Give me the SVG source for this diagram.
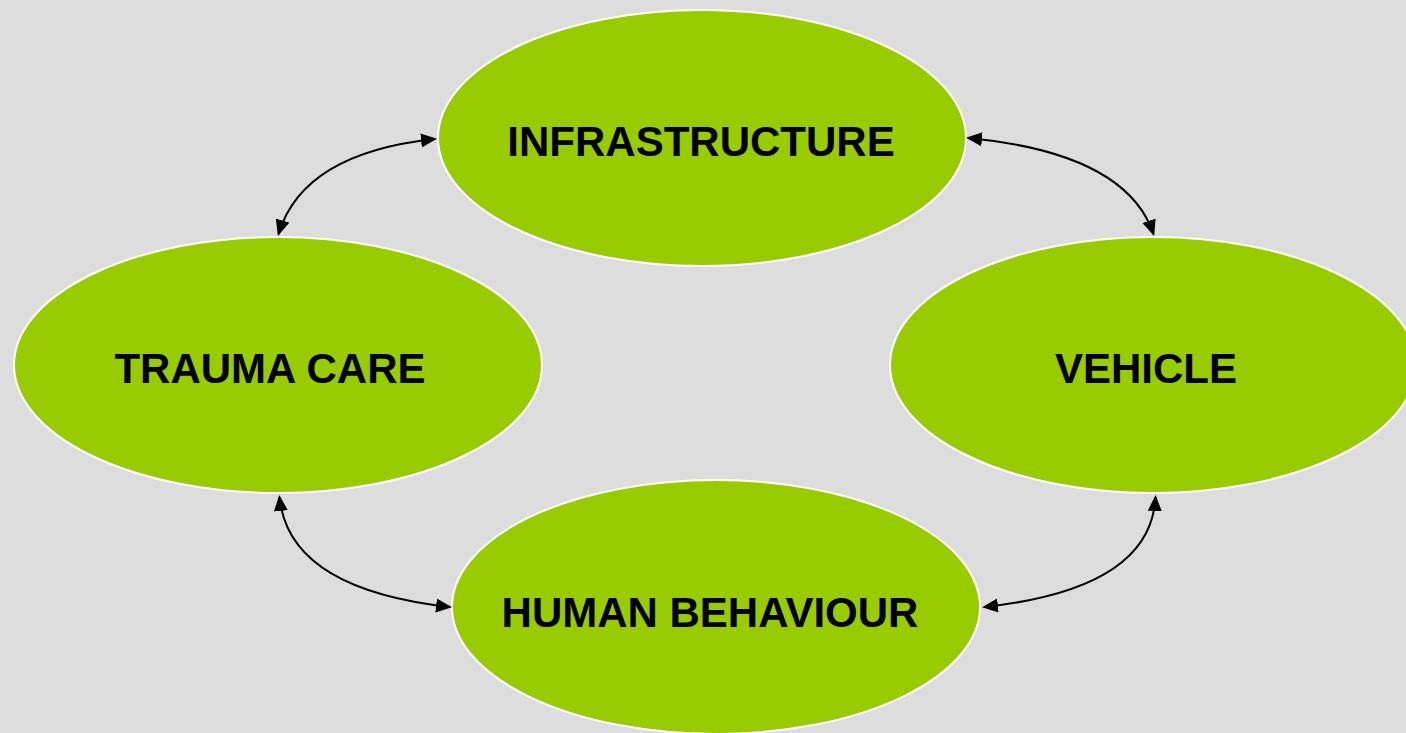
<svg xmlns="http://www.w3.org/2000/svg" width="1406" height="733" viewBox="0 0 1406 733">
  <defs>
    <style>
      .node ellipse { fill: #99CC00; stroke: #FFFFFF; stroke-width: 2; }
      .node text { font-family: "Liberation Sans", Arial, sans-serif; font-weight: bold; font-size: 42px; fill: #000000; text-anchor: middle; }
      .conn path { fill: none; stroke: #000000; stroke-width: 2; marker-start: url(#arr); marker-end: url(#arr); }
    </style>
    <marker id="arr" markerUnits="userSpaceOnUse" markerWidth="18" markerHeight="16" refX="14" refY="7" orient="auto-start-reverse">
      <path d="M0,0 L16,7 L0,14 z" fill="#000000"/>
    </marker>
  </defs>
  <rect x="0" y="0" width="1406" height="733" fill="#DDDDDD"/>
  <g id="node-infrastructure" class="node">
    <ellipse cx="702" cy="138" rx="264" ry="128"/>
    <text x="701" y="156">INFRASTRUCTURE</text>
  </g>
  <g id="node-trauma-care" class="node">
    <ellipse cx="278" cy="365" rx="264" ry="128"/>
    <text x="270" y="383">TRAUMA CARE</text>
  </g>
  <g id="node-vehicle" class="node">
    <ellipse cx="1153" cy="365" rx="263" ry="128"/>
    <text x="1146" y="383">VEHICLE</text>
  </g>
  <g id="node-human-behaviour" class="node">
    <ellipse cx="716" cy="607" rx="264" ry="127"/>
    <text x="710" y="627">HUMAN BEHAVIOUR</text>
  </g>
  <g id="connectors" class="conn">
    <path d="M278.5,234 Q303,153 435,139"/>
    <path d="M968,138 Q1126,153 1153.5,234"/>
    <path d="M279.5,497 Q288.5,589 450,607"/>
    <path d="M1155.5,497 Q1151,589 984,607"/>
  </g>
</svg>
